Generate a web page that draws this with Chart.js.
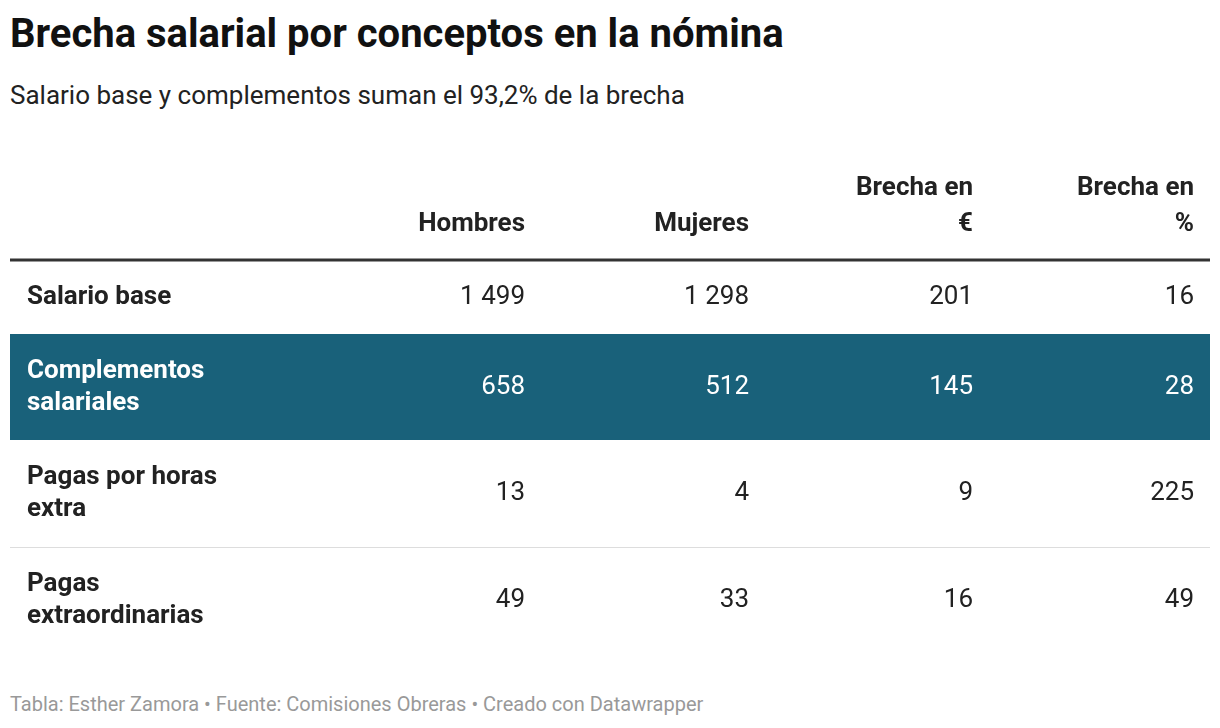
<!DOCTYPE html>
<html><head><meta charset="utf-8">
<script src="https://cdn.jsdelivr.net/npm/chart.js@4"></script>
<style>
body{margin:0;width:1220px;height:728px;background:#fff;font-family:Roboto,sans-serif;position:relative;overflow:hidden}
#t{position:absolute;left:10px;top:10px;font-size:40px;font-weight:700;color:#111}
#s{position:absolute;left:10px;top:80px;font-size:26px;color:#222}
#f{position:absolute;left:10px;top:692px;font-size:20px;color:#999}
#wrap{position:absolute;left:10px;top:160px;width:1200px;height:500px}
</style></head><body>
<div id="t">Brecha salarial por conceptos en la nómina</div>
<div id="s">Salario base y complementos suman el 93,2% de la brecha</div>
<div id="wrap"><canvas id="c"></canvas></div>
<div id="f">Tabla: Esther Zamora • Fuente: Comisiones Obreras • Creado con Datawrapper</div>
<script>
const columns = [["Hombres"], ["Mujeres"], ["Brecha en", "€"], ["Brecha en", "%"]];
const rows = [["Salario base"], ["Complementos", "salariales"], ["Pagas por horas", "extra"], ["Pagas", "extraordinarias"]];
const hombres = ["1 499", "658", "13", "49"];
const mujeres = ["1 298", "512", "4", "33"];
const brechaEur = ["201", "145", "9", "16"];
const brechaPct = ["16", "28", "225", "49"];
const highlightRow = 1;

const colRight = [515, 739, 963, 1184];
const rowBounds = [100, 174, 280, 387, 493];

const tablePlugin = {
  id: 'table',
  afterDraw(chart) {
    const ctx = chart.ctx, x = chart.scales.x, y = chart.scales.y;
    const vals = [hombres, mujeres, brechaEur, brechaPct];
    ctx.save();
    // highlighted row
    ctx.fillStyle = '#19617a';
    ctx.fillRect(x.getPixelForValue(0), y.getPixelForValue(rowBounds[highlightRow]),
      x.getPixelForValue(1200) - x.getPixelForValue(0),
      y.getPixelForValue(rowBounds[highlightRow + 1]) - y.getPixelForValue(rowBounds[highlightRow]));
    // header
    ctx.font = 'bold 26px Roboto';
    ctx.fillStyle = '#222';
    ctx.textAlign = 'right';
    ctx.textBaseline = 'middle';
    columns.forEach((lines, i) => {
      lines.forEach((l, k) => {
        ctx.fillText(l, x.getPixelForValue(colRight[i]), y.getPixelForValue(64 - (lines.length - 1 - k) * 36));
      });
    });
    ctx.fillStyle = '#333';
    ctx.fillRect(x.getPixelForValue(0), y.getPixelForValue(rowBounds[0]) - 1.5, 1200, 3);
    // rows
    rows.forEach((lines, r) => {
      const mid = y.getPixelForValue((rowBounds[r] + rowBounds[r + 1]) / 2);
      const col = r === highlightRow ? '#fff' : '#222';
      ctx.fillStyle = col;
      ctx.textAlign = 'left';
      ctx.font = 'bold 26px Roboto';
      lines.forEach((l, k) => {
        ctx.fillText(l, x.getPixelForValue(17), mid + (k - (lines.length - 1) / 2) * 32);
      });
      ctx.textAlign = 'right';
      ctx.font = '26px Roboto';
      vals.forEach((v, i) => ctx.fillText(v[r], x.getPixelForValue(colRight[i]), mid));
      if (r > highlightRow && r < rows.length - 1) {
        ctx.fillStyle = '#ddd';
        ctx.fillRect(x.getPixelForValue(0), y.getPixelForValue(rowBounds[r + 1]), 1200, 1);
      }
    });
    ctx.restore();
  }
};

new Chart(document.getElementById('c'), {
  type: 'scatter',
  data: { datasets: [{ data: [] }] },
  options: {
    responsive: true, maintainAspectRatio: false, animation: false,
    layout: { padding: 0 },
    plugins: { legend: { display: false }, tooltip: { enabled: false } },
    scales: {
      x: { type: 'linear', min: 0, max: 1200, display: false },
      y: { type: 'linear', min: 0, max: 500, reverse: true, display: false }
    }
  },
  plugins: [tablePlugin]
});
</script>
</body></html>
